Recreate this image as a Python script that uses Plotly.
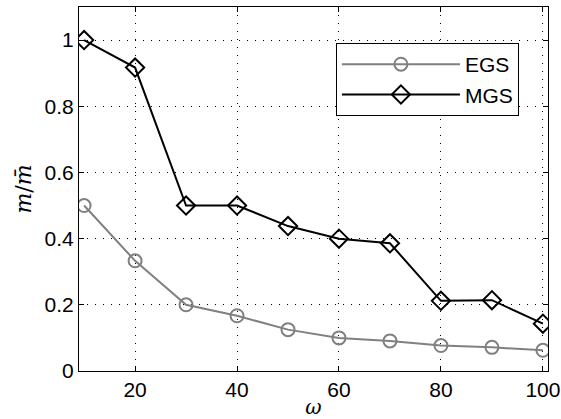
import plotly.graph_objects as go

# Data
omega = [10, 20, 30, 40, 50, 60, 70, 80, 90, 100]
egs = [0.5, 0.333, 0.2, 0.167, 0.125, 0.1, 0.0909, 0.0769, 0.0714, 0.0625]
mgs = [1.0, 0.917, 0.5, 0.5, 0.438, 0.4, 0.386, 0.212, 0.214, 0.143]
x_ticks = [20, 40, 60, 80, 100]
y_ticks = [0, 0.2, 0.4, 0.6, 0.8, 1.0]
y_tick_text = ["0", "0.2", "0.4", "0.6", "0.8", "1"]

sans = "Liberation Sans, Arial, Helvetica, sans-serif"
serif = "DejaVu Serif, Liberation Serif, serif"

fig = go.Figure()
fig.add_trace(go.Scatter(
    x=omega, y=egs, name="EGS", mode="lines+markers",
    line=dict(color="#808080", width=2),
    marker=dict(symbol="circle-open", size=13, color="#808080", line=dict(width=2)),
))
fig.add_trace(go.Scatter(
    x=omega, y=mgs, name="MGS", mode="lines+markers",
    line=dict(color="black", width=2),
    marker=dict(symbol="diamond-open", size=14, color="black", line=dict(width=2)),
))

axis_common = dict(
    showline=True, linecolor="black", linewidth=1, mirror="ticks",
    ticks="inside", ticklen=5, tickcolor="black", tickwidth=1,
    showgrid=True, gridcolor="black", gridwidth=1, griddash="1px,7px",
    zeroline=False, automargin=False,
    tickfont=dict(family=sans, size=21, color="black"),
)

fig.update_xaxes(
    range=[9, 101], tickvals=x_ticks,
    title=dict(text="<i>ω</i>", font=dict(family=serif, size=20, color="black"), standoff=11),
    **axis_common,
)
fig.update_yaxes(
    range=[0, 1.1], tickvals=y_ticks, ticktext=y_tick_text,
    title=dict(text="<i>m</i>/<i>m̄</i>", font=dict(family=serif, size=22, color="black"), standoff=6),
    **axis_common,
)

fig.update_layout(
    width=561, height=419,
    margin=dict(l=79, r=13, t=7, b=48),
    paper_bgcolor="white", plot_bgcolor="white",
    showlegend=True,
    legend=dict(
        x=0.938, y=0.901, xanchor="right", yanchor="top",
        bgcolor="white", bordercolor="black", borderwidth=1,
        font=dict(family=sans, size=21, color="black"),
        itemwidth=118, tracegroupgap=0,
    ),
)

fig.write_html("out.html")
